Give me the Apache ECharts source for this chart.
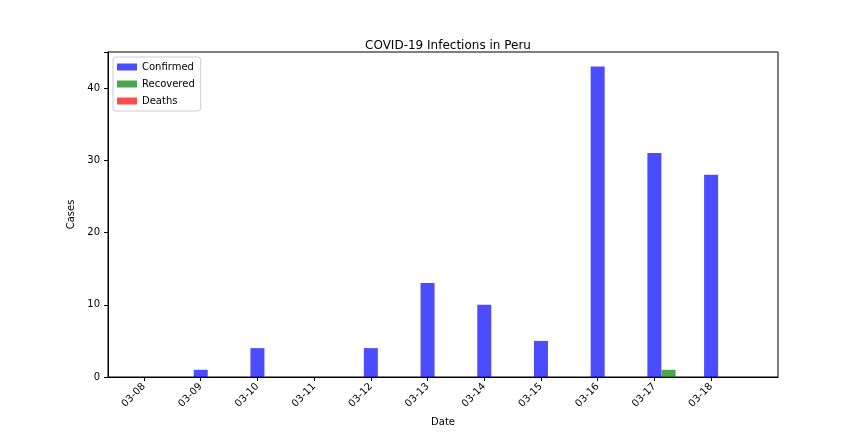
<!DOCTYPE html>
<html><head><meta charset="utf-8">
<script src="https://cdn.jsdelivr.net/npm/echarts@6/dist/echarts.min.js"></script>
<style>html,body{margin:0;padding:0;background:#fff}#c{width:864px;height:432px}</style>
</head><body><div id="c"></div>
<script>
var dates = ['03-08','03-09','03-10','03-11','03-12','03-13','03-14','03-15','03-16','03-17','03-18'];
var confirmed = [0,1,4,0,4,13,10,5,43,31,28];
var recovered = [0,0,0,0,0,0,0,0,0,1,0];
var deaths = [0,0,0,0,0,0,0,0,0,0,0];

function pts(arr, off) {
	return arr.map(function(v, i) { return [i + off, v]; });
}
var idx = dates.map(function(d, i) { return i; });

var chart = echarts.init(document.getElementById('c'));
var txt = { color: '#000', fontFamily: 'DejaVu Sans', fontSize: 10 };
chart.setOption({
	animation: false,
	title: {
		text: 'COVID-19 Infections in Peru', left: 443, top: 35, textAlign: 'center',
		textStyle: { color: '#000', fontFamily: 'DejaVu Sans', fontSize: 12, fontWeight: 'normal' }
	},
	grid: { left: 108, right: 86, top: 52, bottom: 54, show: true, borderColor: '#000', borderWidth: 1 },
	legend: {
		orient: 'vertical', left: 113, top: 57, itemWidth: 20, itemHeight: 7, itemGap: 7,
		padding: [5, 6, 5, 4], borderColor: '#ccc', borderWidth: 1, borderRadius: 3,
		textStyle: txt, icon: 'rect',
		data: ['Confirmed', 'Recovered', 'Deaths']
	},
	xAxis: {
		type: 'value', min: -0.635, max: 11.18,
		name: 'Date', nameLocation: 'middle', nameGap: 40, nameTextStyle: txt,
		axisLine: { show: true, onZero: false, lineStyle: { color: '#000' } },
		axisTick: { show: true, customValues: idx, length: 4, lineStyle: { color: '#000' } },
		axisLabel: {
			customValues: idx, rotate: 45, color: '#000', fontFamily: 'DejaVu Sans', fontSize: 10,
			formatter: function(v) { return dates[Math.round(v)]; }
		},
		splitLine: { show: false }
	},
	yAxis: {
		type: 'value', min: 0, max: 45, interval: 10,
		name: 'Cases', nameLocation: 'middle', nameGap: 30, nameTextStyle: txt,
		axisLine: { show: true, onZero: false, lineStyle: { color: '#000' } },
		axisTick: { show: true, length: 4, lineStyle: { color: '#000' } },
		axisLabel: { color: '#000', fontFamily: 'DejaVu Sans', fontSize: 10,
			formatter: function(v) { return v % 10 === 0 ? v : ''; } },
		splitLine: { show: false }
	},
	series: [
		{ name: 'Confirmed', type: 'bar', barWidth: 14, barGap: '-100%', data: pts(confirmed, 0),
			itemStyle: { color: 'rgba(0,0,255,0.7)' } },
		{ name: 'Recovered', type: 'bar', barWidth: 14, barGap: '-100%', data: pts(recovered, 0.25),
			itemStyle: { color: 'rgba(0,128,0,0.7)' } },
		{ name: 'Deaths', type: 'bar', barWidth: 14, barGap: '-100%', data: pts(deaths, 0.5),
			itemStyle: { color: 'rgba(255,0,0,0.7)' } }
	]
});
</script></body></html>
